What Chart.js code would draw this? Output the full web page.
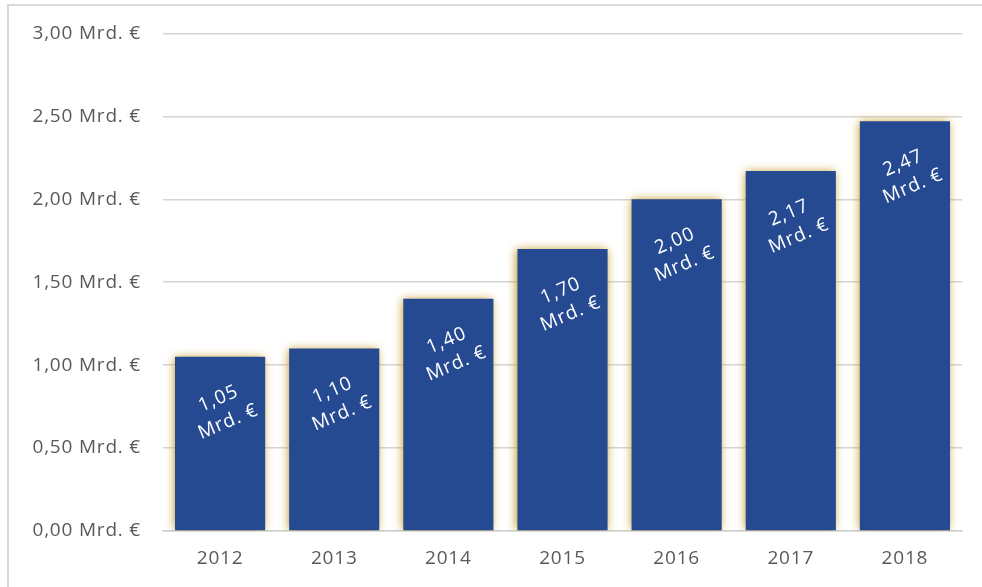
<!DOCTYPE html>
<html>
<head>
<meta charset="utf-8">
<script src="https://cdn.jsdelivr.net/npm/chart.js@4/dist/chart.umd.min.js"></script>
<style>
  html, body { margin: 0; padding: 0; background: #ffffff; }
  #wrap { width: 982px; height: 587px; position: relative; }
</style>
</head>
<body>
<div id="wrap"><canvas id="c" width="982" height="587"></canvas></div>
<script>
const categories = ['2012', '2013', '2014', '2015', '2016', '2017', '2018'];
const values = [1.05, 1.10, 1.40, 1.70, 2.00, 2.17, 2.47];
const unitLabel = 'Mrd. €';
const yTickValues = [0, 0.5, 1.0, 1.5, 2.0, 2.5, 3.0];

function fmt(v) { return v.toFixed(2).replace('.', ','); }

const FONT = '"Open Sans", "Noto Sans", sans-serif';

const frame = {
  id: 'frame',
  beforeDraw(chart) {
    const ctx = chart.ctx;
    ctx.fillStyle = '#ffffff';
    ctx.fillRect(0, 0, chart.width, chart.height);
    ctx.strokeStyle = '#d9d9d9';
    ctx.lineWidth = 2;
    ctx.strokeRect(8, 5, chart.width + 20, chart.height + 20);
    ctx.letterSpacing = '0.8px';
  }
};

const glow = {
  id: 'glow',
  beforeDatasetsDraw(chart) {
    const ctx = chart.ctx;
    ctx.save();
    ctx.shadowColor = 'rgba(195, 155, 40, 1)';
    ctx.shadowBlur = 9;
    ctx.shadowOffsetX = -1;
    ctx.shadowOffsetY = 0;
  },
  afterDatasetsDraw(chart) {
    chart.ctx.restore();
  }
};

const barLabels = {
  id: 'barLabels',
  afterDatasetsDraw(chart) {
    const ctx = chart.ctx;
    const meta = chart.getDatasetMeta(0);
    ctx.save();
    ctx.fillStyle = '#ffffff';
    ctx.font = '19px ' + FONT;
    ctx.letterSpacing = '1px';
    ctx.textAlign = 'center';
    ctx.textBaseline = 'middle';
    meta.data.forEach((bar, i) => {
      const cx = bar.x + 3;
      const cy = bar.y + 53;
      ctx.save();
      ctx.translate(cx, cy);
      ctx.rotate(-23 * Math.PI / 180);
      ctx.fillText(fmt(values[i]), 0, -12);
      ctx.fillText(unitLabel, 0, 13);
      ctx.restore();
    });
    ctx.restore();
  }
};

new Chart(document.getElementById('c'), {
  type: 'bar',
  data: {
    labels: categories,
    datasets: [{
      data: values,
      backgroundColor: '#264a92',
      borderWidth: 0,
      barPercentage: 0.79,
      categoryPercentage: 1.0
    }]
  },
  options: {
    responsive: false,
    animation: false,
    events: [],
    layout: { padding: { left: 0, right: 20, top: 33, bottom: 0 } },
    plugins: {
      legend: { display: false },
      tooltip: { enabled: false },
      title: { display: false }
    },
    scales: {
      x: {
        afterFit(scale) { scale.height = 56; },
        grid: { display: false, drawTicks: false },
        border: { display: true, color: '#d0d0d0', width: 1.5 },
        ticks: {
          color: '#595959',
          font: { family: FONT, size: 19 },
          padding: 16
        }
      },
      y: {
        min: 0,
        max: 3,
        afterFit(scale) { scale.width = 163; },
        afterBuildTicks(scale) { scale.ticks = yTickValues.map(v => ({ value: v })); },
        grid: { color: '#d4d4d4', lineWidth: 1.5, drawTicks: false },
        border: { display: false },
        ticks: {
          color: '#595959',
          font: { family: FONT, size: 19 },
          padding: 22,
          callback: (v) => fmt(v) + ' ' + unitLabel
        }
      }
    }
  },
  plugins: [frame, glow, barLabels]
});
</script>
</body>
</html>
